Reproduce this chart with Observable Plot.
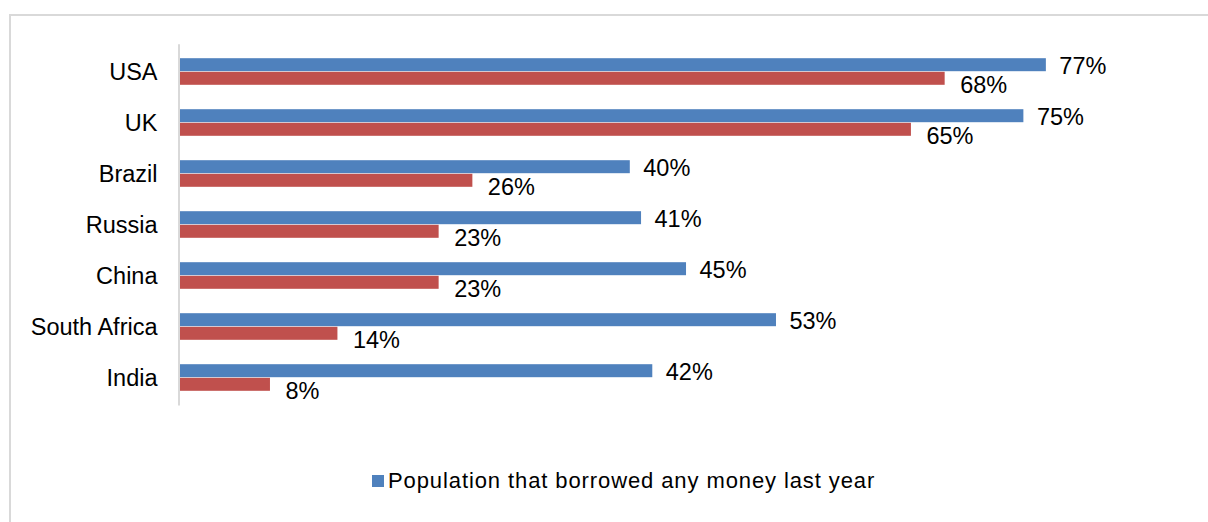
<!DOCTYPE html>
<html>
<head>
<meta charset="utf-8">
<script src="https://cdn.jsdelivr.net/npm/d3@7"></script>
<script src="https://cdn.jsdelivr.net/npm/@observablehq/plot@0.6"></script>
<style>
  html, body { margin: 0; padding: 0; background: #fff; overflow: hidden; }
  body { width: 1208px; height: 522px; position: relative; font-family: "Liberation Sans", Arial, sans-serif; }
  #frame { position: absolute; left: 9px; top: 14px; width: 1260px; height: 560px; border: 2px solid #d9d9d9; box-sizing: border-box; pointer-events: none; }
  #chart { position: absolute; left: 0; top: 0; }
  #legend { position: absolute; left: 372px; top: 468px; display: flex; align-items: center; font-size: 22px; letter-spacing: 0.9px; color: #000; white-space: nowrap; }
  #legend .sw { width: 12px; height: 12px; background: #4F81BD; margin-right: 4px; }
</style>
</head>
<body>
<div id="frame"></div>
<div id="chart"></div>
<div id="legend"><span class="sw"></span><span id="legendText"></span></div>
<script>
const countries = ["USA", "UK", "Brazil", "Russia", "China", "South Africa", "India"];
const borrowedAny = [77, 75, 40, 41, 45, 53, 42];
const secondSeries = [68, 65, 26, 23, 23, 14, 8];
const legendLabel = "Population that borrowed any money last year";

const rows = countries.map((c, i) => ({country: c, a: borrowedAny[i], b: secondSeries[i]}));

const chart = Plot.plot({
  width: 1208,
  height: 430,
  marginLeft: 180,
  marginRight: 128.4,
  marginTop: 44.3,
  marginBottom: 24.5,
  style: {fontFamily: '"Liberation Sans", Arial, sans-serif', fontSize: "23.5px", color: "#000", background: "transparent", overflow: "visible"},
  x: {domain: [0, 80], axis: null},
  y: {domain: countries, padding: 0, label: null, tickSize: 0, tickPadding: 23},
  marks: [
    Plot.barX(rows, {x: "a", y: "country", fill: "#4F81BD", insetTop: 12.2, insetBottom: 25.8}),
    Plot.barX(rows, {x: "b", y: "country", fill: "#C0504D", insetTop: 25.8, insetBottom: 12.2}),
    Plot.ruleX([0], {stroke: "#d9d9d9", strokeWidth: 2, dx: -1.5}),
    Plot.text(rows, {x: "a", y: "country", text: d => d.a + "%", textAnchor: "start", dx: 13, dy: -5.5, fill: "#000", fontSize: 23.5}),
    Plot.text(rows, {x: "b", y: "country", text: d => d.b + "%", textAnchor: "start", dx: 15, dy: 13.2, fill: "#000", fontSize: 23.5})
  ]
});
document.getElementById("chart").appendChild(chart);
document.getElementById("legendText").textContent = legendLabel;
</script>
</body>
</html>
